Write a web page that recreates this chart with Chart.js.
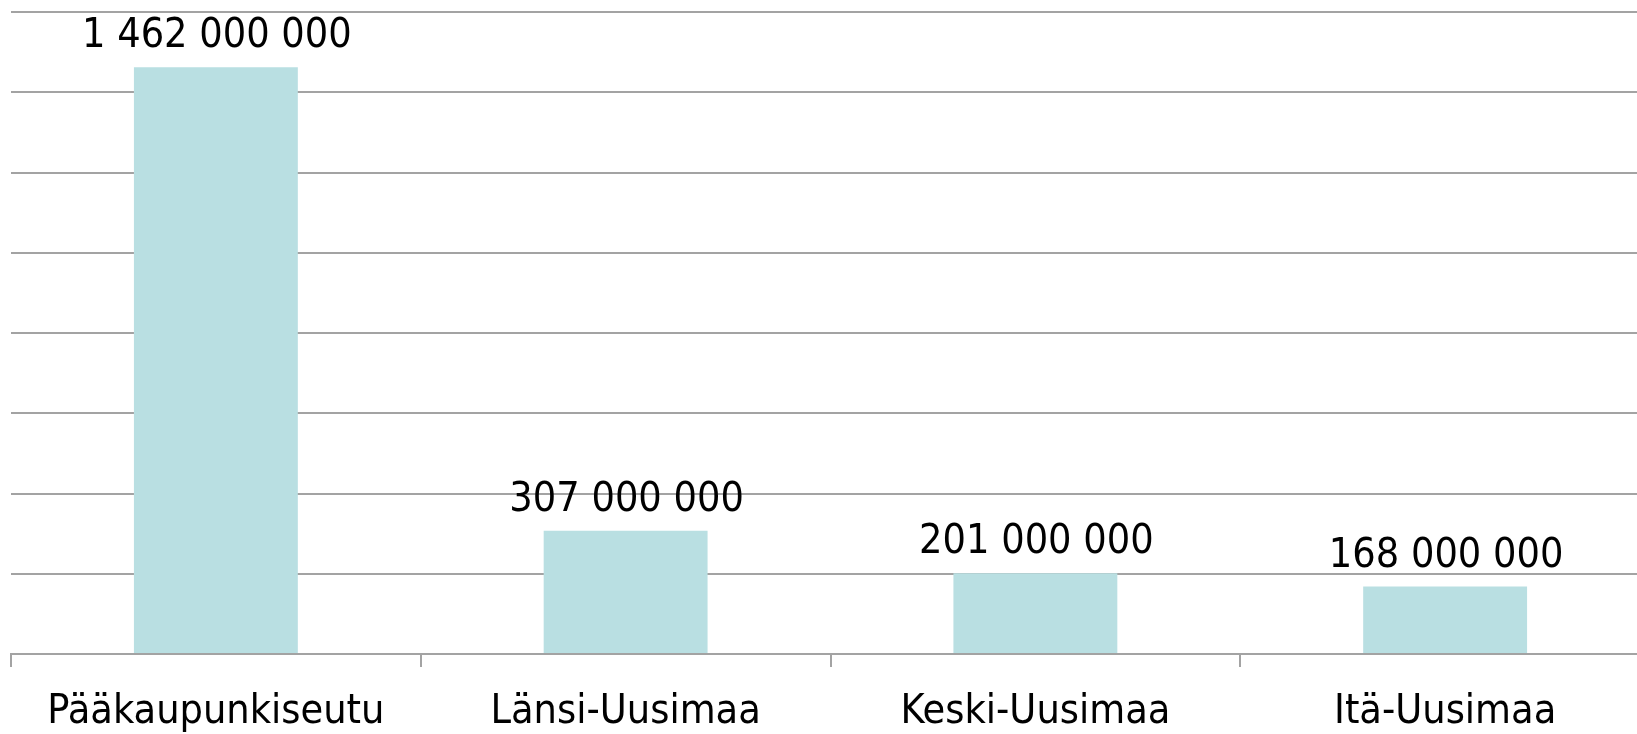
<!DOCTYPE html>
<html>
<head>
<meta charset="utf-8">
<script src="https://cdn.jsdelivr.net/npm/chart.js@4/dist/chart.umd.min.js"></script>
<style>
  html, body { margin: 0; padding: 0; background: #fff; overflow: hidden; }
  #wrap { width: 1650px; height: 734px; position: relative; }
</style>
</head>
<body>
<div id="wrap"><canvas id="chart"></canvas></div>
<script>
const regions = ['Pääkaupunkiseutu', 'Länsi-Uusimaa', 'Keski-Uusimaa', 'Itä-Uusimaa'];
const amounts = [1462000000, 307000000, 201000000, 168000000];
const yMax = 1600000000;
const yStep = 200000000;

const FONT = '"DejaVu Sans Condensed", "DejaVu Sans", sans-serif';
const GRID = '#a3a3a3';

function spaced(n) {
  return String(n).replace(/\B(?=(\d{3})+(?!\d))/g, ' ');
}

// draws value above each bar
const barValues = {
  id: 'barValues',
  afterDatasetsDraw(chart) {
    const ctx = chart.ctx;
    const meta = chart.getDatasetMeta(0);
    ctx.save();
    ctx.font = '41px ' + FONT;
    ctx.fillStyle = '#000';
    ctx.textAlign = 'center';
    ctx.textBaseline = 'alphabetic';
    meta.data.forEach((bar, i) => {
      ctx.fillText(spaced(amounts[i]), bar.x + 1, bar.y - 20);
    });
    ctx.restore();
  }
};

new Chart(document.getElementById('chart'), {
  type: 'bar',
  data: {
    labels: regions,
    datasets: [{
      data: amounts,
      backgroundColor: '#b9dfe2',
      borderWidth: 0,
      categoryPercentage: 1,
      barPercentage: 0.4
    }]
  },
  options: {
    responsive: true,
    maintainAspectRatio: false,
    animation: false,
    layout: { padding: { top: 12, left: 0, right: 0, bottom: 0 } },
    plugins: {
      legend: { display: false },
      tooltip: { enabled: false }
    },
    scales: {
      x: {
        offset: true,
        grid: {
          offset: true,
          drawOnChartArea: false,
          drawTicks: true,
          tickLength: 13,
          color: GRID,
          lineWidth: 2
        },
        border: { display: true, color: GRID, width: 2 },
        ticks: {
          color: '#000',
          font: { family: FONT, size: 41 },
          padding: 21,
          maxRotation: 0,
          autoSkip: false
        },
        afterFit(s) { s.height = 80; }
      },
      y: {
        min: 0,
        max: yMax,
        ticks: { display: false, stepSize: yStep },
        grid: { color: GRID, lineWidth: 2, drawTicks: false },
        border: { display: false },
        afterFit(s) { s.width = 11; }
      }
    }
  },
  plugins: [barValues]
});
</script>
</body>
</html>
